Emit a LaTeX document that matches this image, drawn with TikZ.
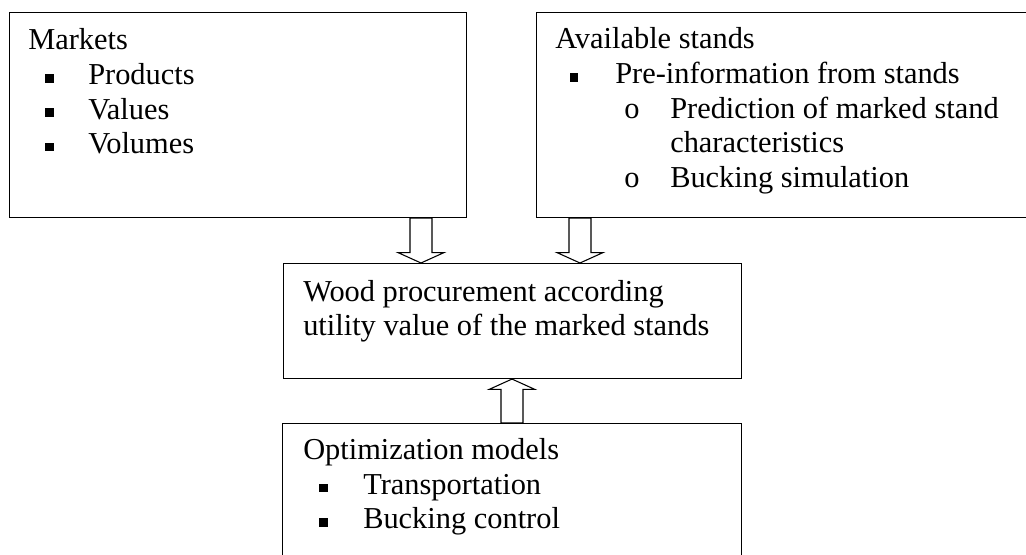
\documentclass[tikz,border=0pt]{standalone}
\usepackage{fontspec}
\setmainfont{Liberation Serif}
\usetikzlibrary{calc}
\tikzset{
  box/.style={draw=black, line width=0.8pt, rectangle, inner sep=0pt, anchor=north west},
  txt/.style={inner sep=0pt, anchor=base west, font=\fontsize{22.8pt}{26pt}\selectfont},
  bul/.style={fill=black, rectangle, inner sep=0pt, minimum size=6.6pt},
  arr/.style={draw=black, line width=0.8pt, fill=white, line join=miter}
}
\newcommand\blockarrow[2]{%
  \draw[arr] let \p1=(#1), \p2=(#2), \n1={sign(\y1-\y2)*7.8} in
   (\x1-8.25pt,\y1) -- (\x1-8.25pt,\y2+\n1*1pt) -- (\x1-17.25pt,\y2+\n1*1pt) -- (\x2,\y2)
   -- (\x1+17.25pt,\y2+\n1*1pt) -- (\x1+8.25pt,\y2+\n1*1pt) -- (\x1+8.25pt,\y1) -- cycle;}
\begin{document}
\begin{tikzpicture}[x=0.75pt,y=-0.75pt]
\clip (0,0) rectangle (1026,555);
\fill[white] (0,0) rectangle (1026,555);
% boxes
\node[box, minimum width=457*0.75pt, minimum height=205*0.75pt] (markets) at (9,12) {};
\node[box, minimum width=500*0.75pt, minimum height=205*0.75pt] (stands) at (536,12) {};
\node[box, minimum width=458*0.75pt, minimum height=115*0.75pt] (wood) at (283,263) {};
\node[box, minimum width=459*0.75pt, minimum height=150*0.75pt] (optim) at (282,423) {};
% markets text
\node[txt] (mt) at (28,50) {Markets};
\node[bul] (mb1) at (49.5,78.5) {};
\node[txt] (m1) at (88,85) {Products};
\node[bul] (mb2) at (49.5,112.5) {};
\node[txt] (m2) at (88,119.5) {Values};
\node[bul] (mb3) at (49.5,147) {};
\node[txt] (m3) at (88,154) {Volumes};
% stands text
\node[txt] (st) at (555,49) {Available stands};
\node[bul] (sb1) at (574,77.5) {};
\node[txt] (s1) at (615,84) {Pre-information from stands};
\node[txt] (so1) at (624,118.5) {o};
\node[txt] (s2) at (670,118.5) {Prediction of marked stand};
\node[txt] (s3) at (670,153) {characteristics};
\node[txt] (so2) at (624,187.5) {o};
\node[txt] (s4) at (670,187.5) {Bucking simulation};
% wood text
\node[txt] (w1) at (303,302) {Wood procurement according};
\node[txt] (w2) at (303,336) {utility value of the marked stands};
% optim text
\node[txt] (ot) at (303,460) {Optimization models};
\node[bul] (ob1) at (323.5,488) {};
\node[txt] (o1) at (363,494.5) {Transportation};
\node[bul] (ob2) at (323.5,522.5) {};
\node[txt] (o2) at (363,529) {Bucking control};
% arrows
\coordinate (a1) at ($(markets.south west)+(412,0)$);
\coordinate (a2) at ($(stands.south west)+(44,0)$);
\coordinate (a3) at ($(optim.north west)+(230,0)$);
\blockarrow{a1}{a1 |- wood.north}
\blockarrow{a2}{a2 |- wood.north}
\blockarrow{a3}{a3 |- wood.south}
\end{tikzpicture}
\end{document}
